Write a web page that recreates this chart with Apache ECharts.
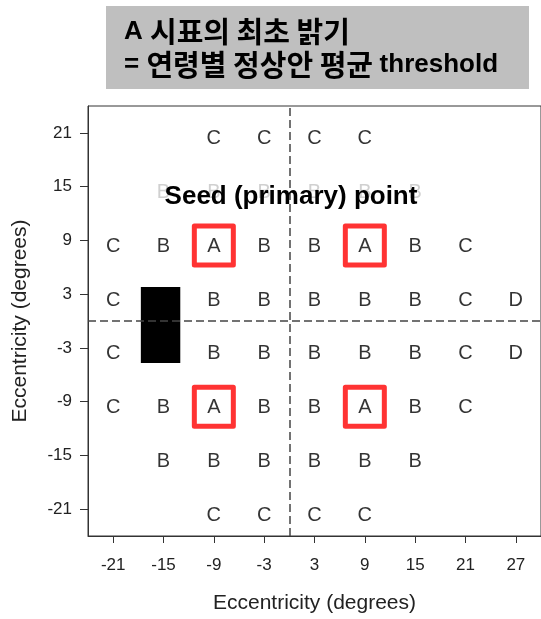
<!DOCTYPE html>
<html>
<head>
<meta charset="utf-8">
<script src="https://cdn.jsdelivr.net/npm/echarts@6/dist/echarts.min.js"></script>
<style>
  html, body { margin: 0; padding: 0; background: #fff; }
  #chart { width: 541px; height: 619px; }
</style>
</head>
<body>
<div id="chart"></div>
<script>
// Test-point grid positions (degrees of eccentricity)
const xTicks = [-21, -15, -9, -3, 3, 9, 15, 21, 27];
const yTicks = [21, 15, 9, 3, -3, -9, -15, -21];

// Letter shown at each test point, one array per row (aligned with xTicks)
const row21  = ['',  '',  'C', 'C', 'C', 'C', '',  '',  ''];
const row15  = ['',  'B', 'B', 'B', 'B', 'B', 'B', '',  ''];   // drawn faded
const row9   = ['C', 'B', 'A', 'B', 'B', 'A', 'B', 'C', ''];
const row3   = ['C', '',  'B', 'B', 'B', 'B', 'B', 'C', 'D'];
const rowM3  = ['C', '',  'B', 'B', 'B', 'B', 'B', 'C', 'D'];
const rowM9  = ['C', 'B', 'A', 'B', 'B', 'A', 'B', 'C', ''];
const rowM15 = ['',  'B', 'B', 'B', 'B', 'B', 'B', '',  ''];
const rowM21 = ['',  '',  'C', 'C', 'C', 'C', '',  '',  ''];

// Seed (primary) points
const seedX = [-9, 9, -9, 9];
const seedY = [9, 9, -9, -9];

// Blind spot extent: [xMin, xMax], [yMin, yMax]
const blindX = [-17.7, -13.0];
const blindY = [-4.7, 3.8];

const solidRows = [
  [21, row21], [9, row9], [3, row3], [-3, rowM3],
  [-9, rowM9], [-15, rowM15], [-21, rowM21]
];
const fadedRows = [[15, row15]];

function toPoints(rows) {
  const pts = [];
  rows.forEach(([y, letters]) => {
    letters.forEach((ch, i) => {
      if (ch) pts.push([xTicks[i], y, ch]);
    });
  });
  return pts;
}

const FONT = "'Liberation Sans', Arial, 'Noto Sans CJK KR', sans-serif";
const letterLabel = (color) => ({
  show: true,
  position: 'inside',
  formatter: (p) => p.data[2],
  fontFamily: FONT,
  fontSize: 20,
  color: color,
  offset: [0, 6]
});

// Title box text: Latin and Hangul runs sized separately
const titleRich = {
  l: { fontFamily: "'Liberation Sans', Arial, sans-serif", fontWeight: 'bold', fontSize: 26, color: '#000' },
  k: { fontFamily: "'Noto Sans CJK KR', sans-serif", fontWeight: 'bold', fontSize: 29, color: '#000' }
};

const chart = echarts.init(document.getElementById('chart'), null, { renderer: 'canvas' });

chart.setOption({
  animation: false,
  backgroundColor: '#ffffff',
  grid: {
    left: 88, top: 106, right: -8, bottom: 82,
    show: true, borderColor: '#333', borderWidth: 1, backgroundColor: 'transparent'
  },
  xAxis: {
    type: 'value', min: -24, max: 30,
    name: 'Eccentricity (degrees)', nameLocation: 'middle', nameGap: 57,
    nameTextStyle: { fontFamily: FONT, fontSize: 21, color: '#222' },
    axisLine: { show: true, onZero: false, lineStyle: { color: '#333', width: 1 } },
    axisTick: { show: true, customValues: xTicks, length: 7, lineStyle: { color: '#333' } },
    axisLabel: { customValues: xTicks, fontFamily: FONT, fontSize: 17, color: '#222', margin: 21 },
    splitLine: { show: false }
  },
  yAxis: {
    type: 'value', min: -24, max: 24,
    name: 'Eccentricity (degrees)', nameLocation: 'middle', nameGap: 57,
    nameTextStyle: { fontFamily: FONT, fontSize: 21, color: '#222' },
    axisLine: { show: true, onZero: false, lineStyle: { color: '#333', width: 1 } },
    axisTick: { show: true, customValues: yTicks, length: 8, lineStyle: { color: '#333' } },
    axisLabel: { customValues: yTicks, fontFamily: FONT, fontSize: 17, color: '#222', margin: 16 },
    splitLine: { show: false }
  },
  series: [
    {
      // meridian dashed lines + blind spot
      type: 'scatter',
      data: [],
      silent: true,
      markLine: {
        silent: true,
        symbol: 'none',
        label: { show: false },
        lineStyle: { color: '#444', width: 1.5, type: [8, 4] },
        data: [{ xAxis: 0 }, { yAxis: 0 }]
      },
      markArea: {
        silent: true,
        itemStyle: { color: '#000', opacity: 1 },
        data: [[{ coord: [blindX[0], blindY[0]] }, { coord: [blindX[1], blindY[1]] }]]
      }
    },
    {
      // faded row behind the annotation
      type: 'scatter',
      symbolSize: 0,
      data: toPoints(fadedRows),
      label: letterLabel('#c4c4c4'),
      z: 2
    },
    {
      type: 'scatter',
      symbolSize: 0,
      data: toPoints(solidRows),
      label: letterLabel('#000'),
      z: 3
    },
    {
      // red boxes around seed points
      type: 'scatter',
      symbol: 'rect',
      symbolSize: 39,
      symbolOffset: [0, 5],
      data: seedX.map((x, i) => [x, seedY[i]]),
      itemStyle: { color: 'rgba(0,0,0,0)', borderColor: '#ff0000', borderWidth: 5, borderJoin: 'round' },
      z: 4
    }
  ],
  graphic: [
    {
      type: 'rect',
      shape: { x: 106, y: 6, width: 423, height: 83 },
      style: { fill: '#bfbfbf' },
      z: 10
    },
    {
      type: 'text',
      x: 124, y: 32,
      style: {
        text: '{l|A }{k|시표의 최초 밝기}',
        rich: titleRich,
        verticalAlign: 'middle', align: 'left'
      },
      z: 11
    },
    {
      type: 'text',
      x: 124, y: 65,
      style: {
        text: '{l|= }{k|연령별 정상안 평균 }{l|threshold}',
        rich: titleRich,
        verticalAlign: 'middle', align: 'left'
      },
      z: 11
    },
    {
      type: 'text',
      x: 291, y: 197,
      style: {
        text: 'Seed (primary) point',
        font: "bold 26px 'Liberation Sans', Arial, sans-serif",
        fill: '#000', verticalAlign: 'middle', align: 'center'
      },
      z: 11
    }
  ]
});
</script>
</body>
</html>
